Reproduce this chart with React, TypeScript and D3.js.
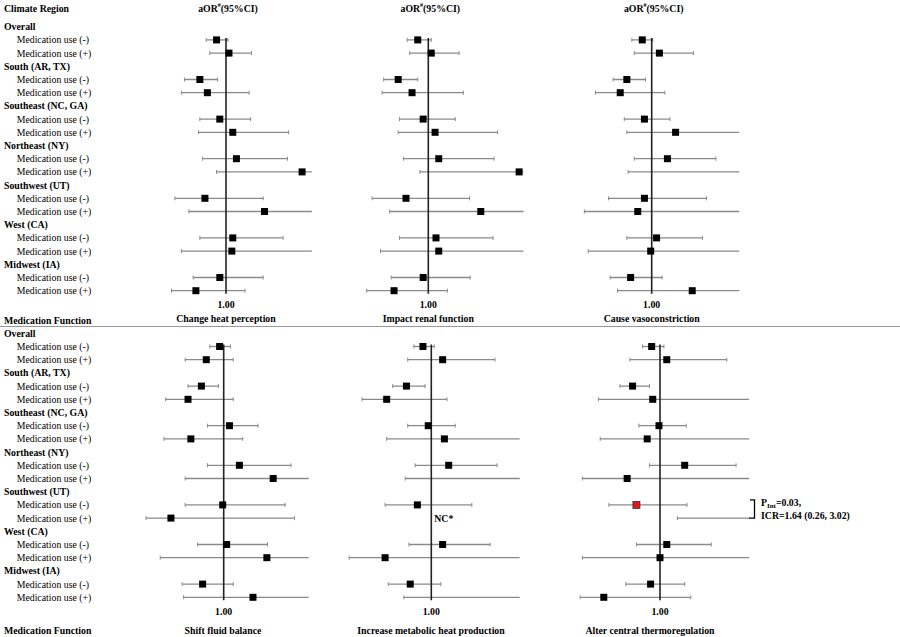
import React from 'react';
import * as d3 from 'd3';

// row labels
const groups = ['Overall', 'South (AR, TX)', 'Southeast (NC, GA)', 'Northeast (NY)', 'Southwest (UT)', 'West (CA)', 'Midwest (IA)'];
const useLabels = ['Medication use (-)', 'Medication use (+)'];

const topTitles = ['Change heat perception', 'Impact renal function', 'Cause vasoconstriction'];
const bottomTitles = ['Shift fluid balance', 'Increase metabolic heat production', 'Alter central thermoregulation'];

// aOR, lower, upper in row order: Overall -, Overall +, South -, South +, ... Midwest +
const heatPerceptionOR = [0.91, 1.03, 0.77, 0.83, 0.94, 1.07, 1.11, 2.14, 0.81, 1.47, 1.07, 1.06, 0.94, 0.74];
const heatPerceptionLo = [0.82, 0.85, 0.66, 0.64, 0.77, 0.76, 0.79, 0.91, 0.60, 0.69, 0.77, 0.64, 0.72, 0.58];
const heatPerceptionHi = [1.02, 1.29, 0.92, 1.26, 1.28, 1.87, 1.85, 3.10, 1.45, 3.40, 1.77, 2.90, 1.45, 1.21];

const renalOR = [0.90, 1.03, 0.74, 0.85, 0.95, 1.07, 1.11, 2.48, 0.80, 1.69, 1.08, 1.11, 0.95, 0.71];
const renalLo = [0.81, 0.83, 0.64, 0.63, 0.75, 0.74, 0.78, 0.92, 0.57, 0.68, 0.75, 0.62, 0.69, 0.54];
const renalHi = [1.03, 1.36, 0.90, 1.42, 1.31, 2.00, 1.93, 3.50, 1.51, 4.20, 1.91, 3.20, 1.52, 1.21];

const vasoOR = [0.91, 1.08, 0.78, 0.73, 0.93, 1.27, 1.17, 2.60, 0.93, 0.87, 1.05, 0.99, 0.81, 1.50];
const vasoLo = [0.82, 0.84, 0.68, 0.57, 0.76, 0.78, 0.84, 0.79, 0.65, 0.51, 0.78, 0.53, 0.66, 0.71];
const vasoHi = [1.01, 1.52, 0.94, 1.14, 1.20, 3.00, 1.90, 4.50, 1.73, 3.30, 1.66, 3.80, 1.11, 3.10];

const fluidOR = [0.96, 0.84, 0.80, 0.70, 1.06, 0.72, 1.17, 1.64, 0.99, 0.59, 1.03, 1.54, 0.81, 1.34];
const fluidLo = [0.87, 0.68, 0.70, 0.56, 0.85, 0.55, 0.85, 0.68, 0.68, 0.46, 0.77, 0.53, 0.66, 0.67];
const fluidHi = [1.07, 1.10, 0.95, 1.10, 1.41, 1.21, 1.96, 3.30, 1.85, 2.03, 1.55, 3.60, 1.10, 3.00];

// null = not calculable (NC*)
const metabolicOR = [0.92, 1.12, 0.78, 0.64, 0.97, 1.14, 1.19, 2.70, 0.87, null, 1.12, 0.63, 0.81, 2.50];
const metabolicLo = [0.84, 0.79, 0.68, 0.50, 0.79, 0.64, 0.85, 0.77, 0.63, null, 0.80, 0.44, 0.65, 0.76];
const metabolicHi = [1.03, 1.89, 0.94, 1.17, 1.27, 3.10, 1.93, 4.60, 1.50, null, 1.80, 3.40, 1.10, 3.90];

const thermoOR = [0.92, 1.07, 0.76, 0.93, 0.99, 0.88, 1.28, 0.72, 0.79, 3.00, 1.07, 1.00, 0.91, 0.57];
const thermoLo = [0.84, 0.74, 0.67, 0.54, 0.81, 0.55, 0.90, 0.46, 0.60, 1.19, 0.79, 0.46, 0.71, 0.45];
const thermoHi = [1.04, 1.95, 0.90, 3.20, 1.30, 3.30, 2.14, 3.50, 1.31, 4.20, 1.67, 3.90, 1.28, 1.36];

const FONT = '"Liberation Serif", "Times New Roman", serif';
const FS = 9.8;
const PX_PER_LOG = 100;
const X_MIN = 0.4;

type Panel = {
    or: (number | null)[];
    lo: (number | null)[];
    hi: (number | null)[];
    refX: number;
    xMax: number;
    highlight?: number;
    nc?: number;
};

const topPanels: Panel[] = [
    { or: heatPerceptionOR, lo: heatPerceptionLo, hi: heatPerceptionHi, refX: 226, xMax: 2.36 },
    { or: renalOR, lo: renalLo, hi: renalHi, refX: 428.3, xMax: 2.59 },
    { or: vasoOR, lo: vasoLo, hi: vasoHi, refX: 651.7, xMax: 2.4 },
];
const bottomPanels: Panel[] = [
    { or: fluidOR, lo: fluidLo, hi: fluidHi, refX: 223.7, xMax: 2.34 },
    { or: metabolicOR, lo: metabolicLo, hi: metabolicHi, refX: 431.3, xMax: 2.42, nc: 9 },
    { or: thermoOR, lo: thermoLo, hi: thermoHi, refX: 660, xMax: 2.44, highlight: 8 },
];

const rowIdx = d3.range(21);
// data row index -> row position (skip group header rows)
const dataRow = (i: number) => Math.floor(i / 2) * 3 + 1 + (i % 2);

const PanelMarks: React.FC<{ p: Panel; y: d3.ScalePoint<number> }> = ({ p, y }) => {
    const x = d3
        .scaleLog()
        .domain([X_MIN, p.xMax])
        .range([p.refX + PX_PER_LOG * Math.log(X_MIN), p.refX + PX_PER_LOG * Math.log(p.xMax)]);
    const y0 = y(1)!;
    const y1 = y(20)!;
    return (
        <g>
            {p.or.map((v, i) => {
                const cy = y(dataRow(i))!;
                if (p.nc === i) {
                    return (
                        <text key={i} x={x(1) + 3} y={cy} dominantBaseline="central" fontWeight="bold" fontSize={FS}>
                            NC*
                        </text>
                    );
                }
                const lo = p.lo[i] as number;
                const hi = p.hi[i] as number;
                const xl = x(Math.max(lo, X_MIN));
                const truncated = hi > p.xMax;
                const xr = x(Math.min(hi, p.xMax));
                return (
                    <g key={i}>
                        <line x1={xl} x2={xr} y1={cy} y2={cy} stroke="#8a8a8a" strokeWidth={1.3} />
                        <line x1={xl} x2={xl} y1={cy - 2} y2={cy + 2} stroke="#8a8a8a" strokeWidth={1} />
                        {!truncated && <line x1={xr} x2={xr} y1={cy - 2} y2={cy + 2} stroke="#8a8a8a" strokeWidth={1} />}
                    </g>
                );
            })}
            <line x1={x(1)} x2={x(1)} y1={y0 - 2} y2={y1 + 3} stroke="#222" strokeWidth={1.6} />
            {p.or.map((v, i) => {
                if (v == null || v > p.xMax) return null;
                const cy = y(dataRow(i))!;
                const red = p.highlight === i;
                return (
                    <rect
                        key={i}
                        x={x(v) - 3.5}
                        y={cy - 3.5}
                        width={7}
                        height={7}
                        fill={red ? '#e8141b' : '#000'}
                        stroke={red ? '#333' : 'none'}
                        strokeWidth={0.8}
                    />
                );
            })}
            <text x={x(1)} y={y1 + 14} textAnchor="middle" dominantBaseline="central" fontWeight="bold" fontSize={FS}>
                1.00
            </text>
        </g>
    );
};

const RowLabels: React.FC<{ y: d3.ScalePoint<number> }> = ({ y }) => (
    <g>
        {groups.map((g, gi) => (
            <g key={g}>
                <text x={4} y={y(gi * 3)!} dominantBaseline="central" fontWeight="bold" fontSize={FS}>
                    {g}
                </text>
                {useLabels.map((u, ui) => (
                    <text key={u} x={16.7} y={y(gi * 3 + 1 + ui)!} dominantBaseline="central" fontSize={FS}>
                        {u}
                    </text>
                ))}
            </g>
        ))}
    </g>
);

export default function App() {
    const yTop = d3.scalePoint<number>().domain(rowIdx).range([26.7, 290.7]);
    const yBottom = d3.scalePoint<number>().domain(rowIdx).range([333.3, 597.3]);

    return (
        <svg width={900} height={637} style={{ position: 'absolute', left: 0, top: 0, background: '#fff' }} fontFamily={FONT} fill="#000">
            {/* header */}
            <text x={4} y={8} dominantBaseline="central" fontWeight="bold" fontSize={FS}>
                Climate Region
            </text>
            {topPanels.map((p, i) => (
                <text key={i} x={p.refX + 2} y={8} textAnchor="middle" dominantBaseline="central" fontWeight="bold" fontSize={FS}>
                    aOR<tspan baselineShift="super" fontSize={6}>#</tspan>(95%CI)
                </text>
            ))}

            <RowLabels y={yTop} />
            {topPanels.map((p, i) => (
                <PanelMarks key={i} p={p} y={yTop} />
            ))}
            <text x={4} y={320} dominantBaseline="central" fontWeight="bold" fontSize={FS}>
                Medication Function
            </text>
            {topTitles.map((t, i) => (
                <text key={t} x={topPanels[i].refX} y={318} textAnchor="middle" dominantBaseline="central" fontWeight="bold" fontSize={FS}>
                    {t}
                </text>
            ))}

            <line x1={0} x2={900} y1={326.5} y2={326.5} stroke="#999" strokeWidth={1} />

            <RowLabels y={yBottom} />
            {bottomPanels.map((p, i) => (
                <PanelMarks key={i} p={p} y={yBottom} />
            ))}
            <text x={4} y={630} dominantBaseline="central" fontWeight="bold" fontSize={FS}>
                Medication Function
            </text>
            {bottomTitles.map((t, i) => (
                <text key={t} x={[223, 431, 650][i]} y={630} textAnchor="middle" dominantBaseline="central" fontWeight="bold" fontSize={FS}>
                    {t}
                </text>
            ))}

            {/* interaction annotation for Southwest (UT) */}
            <path
                d={`M750,${yBottom(13)! - 5}H754.5V${yBottom(14)!}H749`}
                fill="none"
                stroke="#000"
                strokeWidth={1.3}
            />
            <text x={761} y={502} dominantBaseline="central" fontWeight="bold" fontSize={FS}>
                P<tspan baselineShift="sub" fontSize={7}>Int</tspan>=0.03,
            </text>
            <text x={761} y={515.5} dominantBaseline="central" fontWeight="bold" fontSize={FS}>
                ICR=1.64 (0.26, 3.02)
            </text>
        </svg>
    );
}
